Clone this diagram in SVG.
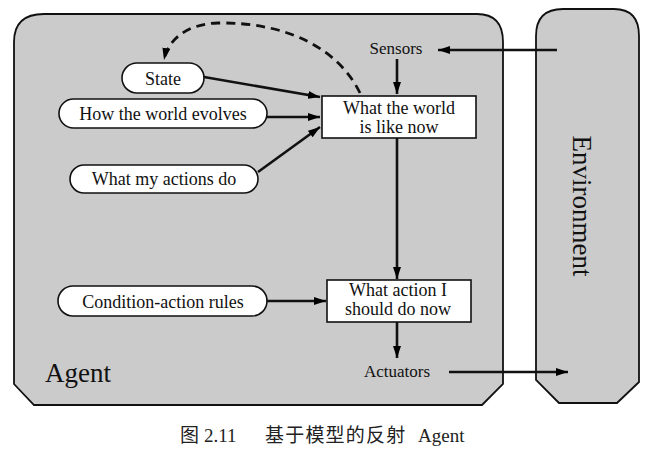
<svg xmlns="http://www.w3.org/2000/svg" width="660" height="449" viewBox="0 0 660 449">
<defs>
<marker id="ah" viewBox="0 0 12 8" refX="12" refY="4" markerWidth="12" markerHeight="8" markerUnits="userSpaceOnUse" orient="auto">
<path d="M0,0 L12,4 L0,8 Z" fill="#000"/>
</marker>
<style>
.panel{fill:#cbcbcb;stroke:#111;stroke-width:1.8}
.pill{fill:#fff;stroke:#111;stroke-width:1.6}
.box{fill:#fff;stroke:#111;stroke-width:1.6}
.t{font-family:"Liberation Serif","Times New Roman",serif;font-size:18px;fill:#111;text-anchor:middle}
.s{font-size:17px}
.big{font-family:"Liberation Serif","Times New Roman",serif;font-size:27px;fill:#111}
.c{stroke:#111;stroke-width:2.6;fill:none;marker-end:url(#ah)}
.d{stroke:#111;stroke-width:2.8;fill:none;stroke-dasharray:9,6;marker-end:url(#ah)}
.cap{font-family:"Liberation Serif","Noto Sans CJK SC",serif;font-size:19px;fill:#222}
</style>
</defs>
<rect width="660" height="449" fill="#fff"/>
<g id="agent">
<path class="panel" d="M14,42 Q14,14 44,14 L477,14 Q503,14 503,42 L503,384 L482,405 L34,405 L14,384 Z"/>
<text class="big" x="45" y="382">Agent</text>
</g>
<g id="environment">
<path class="panel" d="M536,36 Q536,9 563,9 L614,9 Q639,9 639,36 L639,382 L617,403 L559,403 L536,380 Z"/>
<text class="big" text-anchor="middle" transform="translate(573,206) rotate(90)">Environment</text>
</g>
<g id="sensors"><text class="t s" x="396" y="54">Sensors</text></g>
<g id="actuators"><text class="t s" x="397" y="377">Actuators</text></g>
<g id="state">
<rect class="pill" x="122" y="63" width="82" height="30" rx="15"/>
<text class="t" x="163" y="85">State</text>
</g>
<g id="how-world-evolves">
<rect class="pill" x="59" y="99" width="208" height="29" rx="14.5"/>
<text class="t" x="163" y="120">How the world evolves</text>
</g>
<g id="what-my-actions-do">
<rect class="pill" x="70" y="165" width="188" height="28" rx="14"/>
<text class="t" x="164" y="185">What my actions do</text>
</g>
<g id="condition-action-rules">
<rect class="pill" x="58" y="286" width="209" height="30" rx="15"/>
<text class="t" x="163" y="308">Condition-action rules</text>
</g>
<g id="world-now">
<rect class="box" x="322" y="96" width="154" height="42"/>
<text class="t" x="399" y="114">What the world</text>
<text class="t" x="399" y="133">is like now</text>
</g>
<g id="action-now">
<rect class="box" x="327" y="280" width="144" height="42"/>
<text class="t" x="398" y="296">What action I</text>
<text class="t" x="398" y="315">should do now</text>
</g>
<g id="connectors">
<line class="c" x1="557" y1="50" x2="438" y2="50"/>
<line class="c" x1="397" y1="59" x2="397" y2="94"/>
<line class="c" x1="204" y1="77" x2="320" y2="97"/>
<line class="c" x1="267" y1="117" x2="320" y2="117"/>
<line class="c" x1="258" y1="172" x2="320" y2="127"/>
<line class="c" x1="397" y1="138" x2="397" y2="279"/>
<line class="c" x1="267" y1="301" x2="326" y2="301"/>
<line class="c" x1="397" y1="322" x2="397" y2="358"/>
<line class="c" x1="449" y1="372" x2="568" y2="372"/>
<path class="d" d="M360,93 C340,52 292,22 218,23 C186,24 168,40 164,60"/>
</g>
<g id="caption">
<text class="cap" x="180" y="442">图</text>
<text class="cap" x="204" y="442">2.11</text>
<text class="cap" x="265" y="442" letter-spacing="1.2">基于模型的反射</text>
<text class="cap" x="418" y="442">Agent</text>
</g>
</svg>
